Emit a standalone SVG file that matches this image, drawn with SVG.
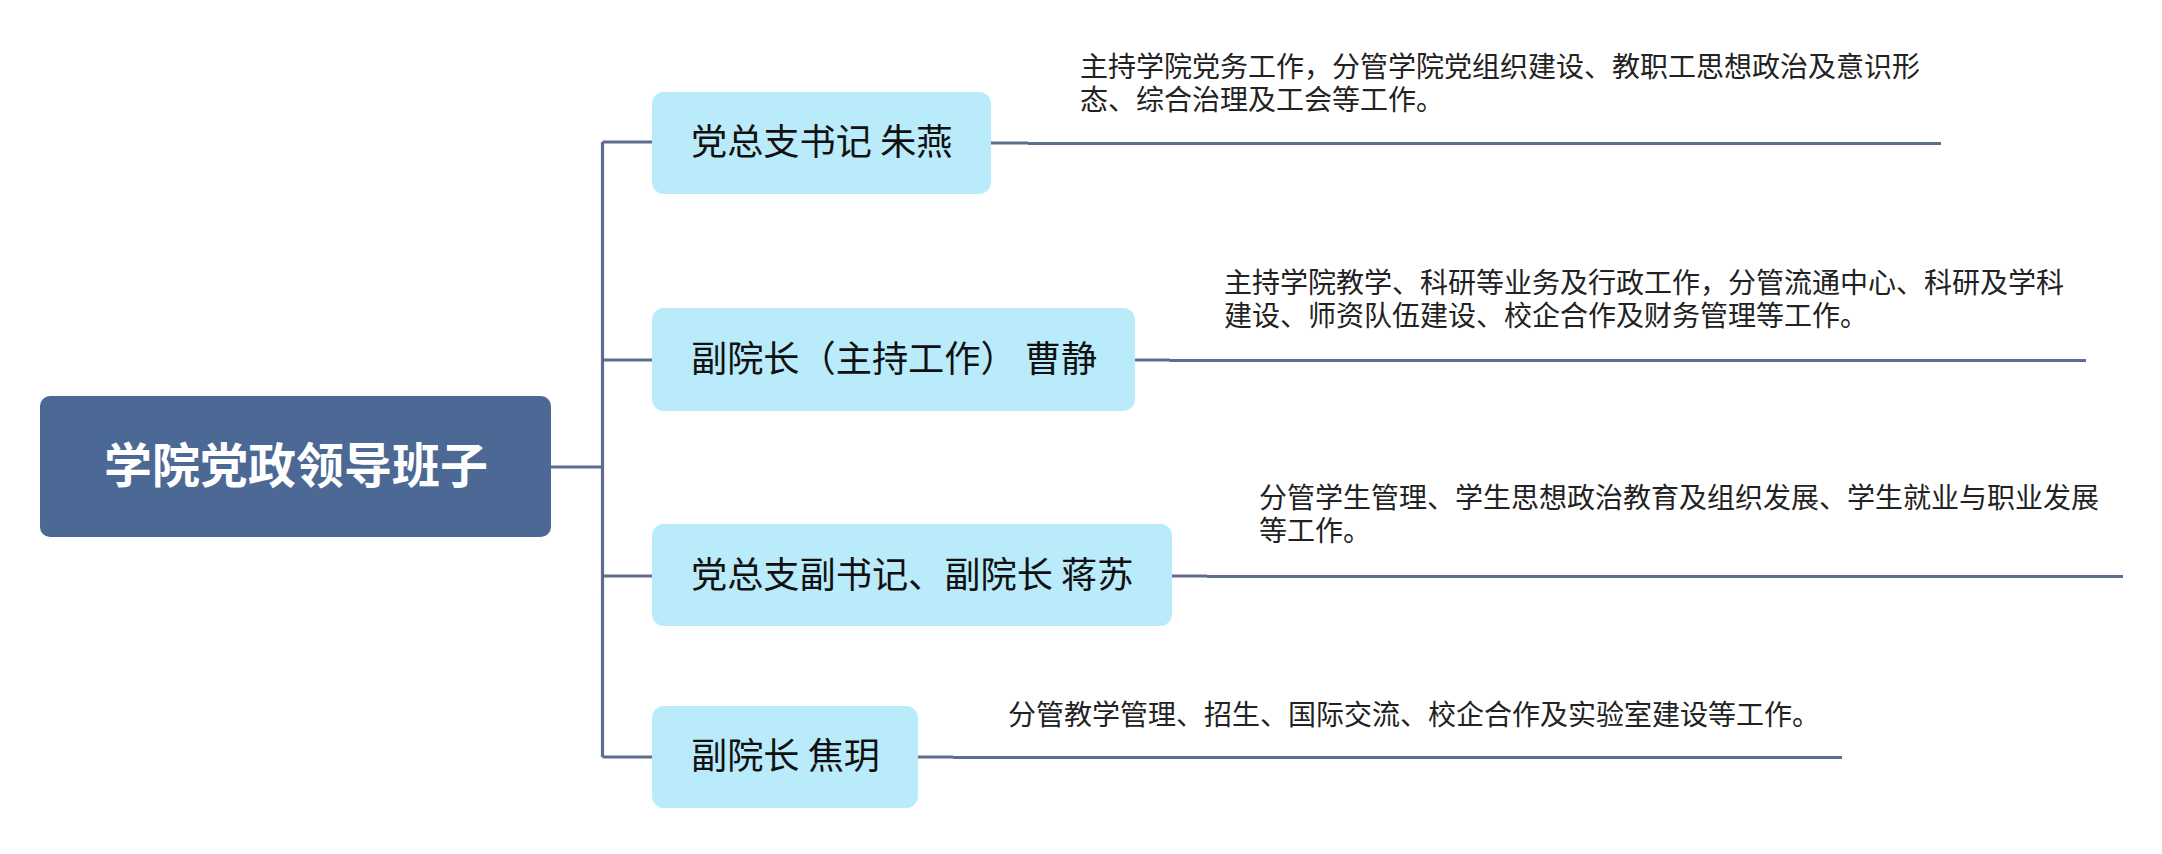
<svg xmlns="http://www.w3.org/2000/svg" width="2162" height="854" viewBox="0 0 2162 854">
<style>
.conn{stroke:#5E6D8E;stroke-width:3.2;fill:none}
.box{fill:#BAEBFB}
.lbl{font-family:"Noto Sans CJK SC","Noto Sans",sans-serif;font-size:36.2px;fill:#111}
.desc{font-family:"Noto Sans CJK SC","Noto Sans",sans-serif;font-size:28px;fill:#222}
.root{font-family:"Noto Sans CJK SC","Noto Sans",sans-serif;font-size:48px;font-weight:bold;fill:#fff}
</style>
<rect width="2162" height="854" fill="#fff"/>
<g id="connectors">
<path class="conn" d="M551 467H602.5M602.5 142V757M602.5 142H652M602.5 360H652M602.5 576H652M602.5 757H652"/>
<path class="conn" d="M991 143H1028M1028 143.5H1941"/>
<path class="conn" d="M1135 360H1170M1170 360.5H2086"/>
<path class="conn" d="M1172 576H1207M1207 576.5H2123"/>
<path class="conn" d="M918 757H953M953 757.5H1842"/>
</g>
<g id="root">
<rect x="40" y="396" width="511" height="141" rx="10" fill="#4C6894"/>
<text class="root" x="296" y="483" text-anchor="middle">学院党政领导班子</text>
</g>
<g id="n1">
<rect class="box" x="652" y="92" width="339" height="102" rx="12"/>
<text class="lbl" x="691" y="155">党总支书记 朱燕</text>
</g>
<g id="d1">
<text class="desc" x="1080" y="77">主持学院党务工作，分管学院党组织建设、教职工思想政治及意识形</text>
<text class="desc" x="1080" y="110">态、综合治理及工会等工作。</text>
</g>
<g id="n2">
<rect class="box" x="652" y="308" width="483" height="103" rx="12"/>
<text class="lbl" x="691" y="372">副院长（主持工作） 曹静</text>
</g>
<g id="d2">
<text class="desc" x="1224" y="293">主持学院教学、科研等业务及行政工作，分管流通中心、科研及学科</text>
<text class="desc" x="1224" y="326">建设、师资队伍建设、校企合作及财务管理等工作。</text>
</g>
<g id="n3">
<rect class="box" x="652" y="524" width="520" height="102" rx="12"/>
<text class="lbl" x="691" y="588">党总支副书记、副院长 蒋苏</text>
</g>
<g id="d3">
<text class="desc" x="1259" y="508">分管学生管理、学生思想政治教育及组织发展、学生就业与职业发展</text>
<text class="desc" x="1259" y="541">等工作。</text>
</g>
<g id="n4">
<rect class="box" x="652" y="706" width="266" height="102" rx="12"/>
<text class="lbl" x="691" y="769">副院长 焦玥</text>
</g>
<g id="d4">
<text class="desc" x="1008" y="725">分管教学管理、招生、国际交流、校企合作及实验室建设等工作。</text>
</g>
</svg>
